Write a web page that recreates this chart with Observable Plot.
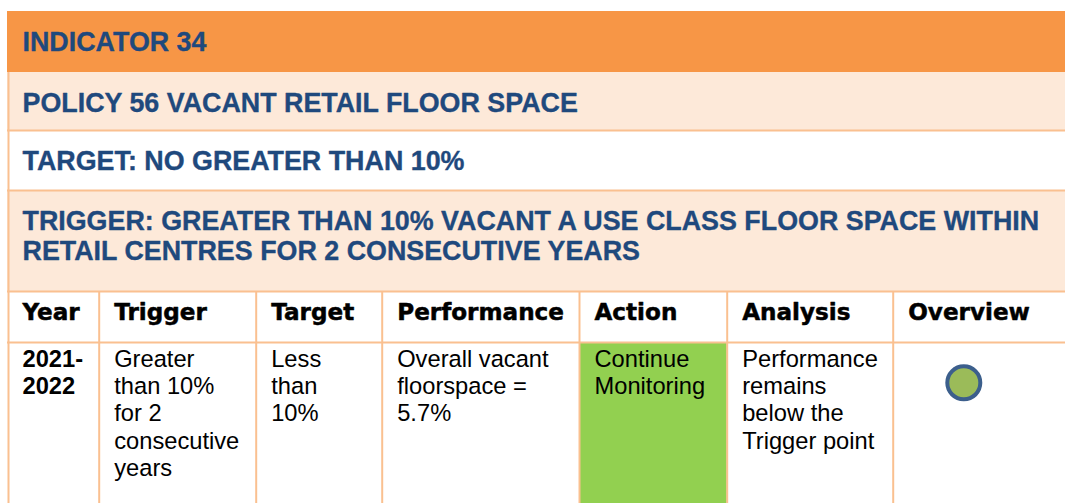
<!DOCTYPE html>
<html><head><meta charset="utf-8">
<script src="https://cdn.jsdelivr.net/npm/d3@7"></script>
<script src="https://cdn.jsdelivr.net/npm/@observablehq/plot@0.6"></script>
<style>html,body{margin:0;padding:0;background:#fff;} svg{display:block;}</style>
</head><body><div id="chart"></div>
<script>
// ---- data ----
const indicatorTitle = "INDICATOR 34";
const policyTitle = "POLICY 56 VACANT RETAIL FLOOR SPACE";
const targetTitle = "TARGET: NO GREATER THAN 10%";
const triggerTitle = ["TRIGGER: GREATER THAN 10% VACANT A USE CLASS FLOOR SPACE WITHIN", "RETAIL CENTRES FOR 2 CONSECUTIVE YEARS"];
const columns = ["Year", "Trigger", "Target", "Performance", "Action", "Analysis", "Overview"];
const yearCell = ["2021-", "2022"];
const triggerCell = ["Greater", "than 10%", "for 2", "consecutive", "years"];
const targetCell = ["Less", "than", "10%"];
const performanceCell = ["Overall vacant", "floorspace =", "5.7%"];
const actionCell = ["Continue", "Monitoring"];
const analysisCell = ["Performance", "remains", "below the", "Trigger point"];
const overviewRating = ["green"];

// ---- layout & style ----
const W = 1065, H = 503;
const tableLeft = 7;
const rowEdge = [11, 72, 130, 190, 291, 342, 503];
const colEdge = [8, 98.7, 255.7, 381.7, 579, 726.7, 892.7, W];
const pad = 15;
const orange = "#F79646", peach = "#FDE9D9", line = "#FAC090", blue = "#1F497D";
const green = "#92D050";
const ratingFill = {green: "#9BBB59"};
const titleFs = 26.85, titleLh = 1.155;
const headFs = 23.1;
const bodyFs = 23.7, bodyLh = 1.157;
const topFor = (baseline, fs, lh) => baseline - 0.71 * lh * fs;

const titles = [
  {x: 22, b: 50.5, t: indicatorTitle},
  {x: 22, b: 111, t: policyTitle},
  {x: 22, b: 169.5, t: targetTitle},
  {x: 22, b: 229, t: triggerTitle.join("\n")}
];
const headers = columns.map((c, i) => ({x: i === 0 ? 22 : colEdge[i] + pad, t: c}));
const yearCells = [{x: 22, t: yearCell.join("\n")}];
const cells = [triggerCell, targetCell, performanceCell, actionCell, analysisCell]
  .map((c, i) => ({x: colEdge[i + 1] + pad, t: c.join("\n")}));

const chart = Plot.plot({
  width: W, height: H, margin: 0,
  x: {domain: [0, W], range: [0, W], axis: null},
  y: {domain: [0, H], range: [0, H], axis: null},
  style: {background: "#fff", fontFamily: "Liberation Sans, Arial, sans-serif"},
  marks: [
    Plot.rect([0], {x1: tableLeft, x2: W, y1: rowEdge[0], y2: rowEdge[1], fill: orange}),
    Plot.rect([0], {x1: tableLeft, x2: W, y1: rowEdge[1], y2: rowEdge[2], fill: peach}),
    Plot.rect([0], {x1: tableLeft, x2: W, y1: rowEdge[3], y2: rowEdge[4], fill: peach}),
    Plot.rect([0], {x1: colEdge[4], x2: colEdge[5], y1: rowEdge[5], y2: rowEdge[6], fill: green}),
    Plot.ruleY(rowEdge.slice(2, 6), {x1: tableLeft, x2: W, stroke: line, strokeWidth: 2}),
    Plot.ruleX([colEdge[0]], {y1: rowEdge[1], y2: rowEdge[6], stroke: line, strokeWidth: 2}),
    Plot.ruleX(colEdge.slice(1, 7), {y1: rowEdge[4], y2: rowEdge[6], stroke: line, strokeWidth: 2}),
    Plot.text(titles, {x: "x", y: d => topFor(d.b, titleFs, titleLh), text: "t", textAnchor: "start", lineAnchor: "top",
      lineHeight: titleLh, fontSize: titleFs, fontWeight: "bold", fill: blue, fontFamily: "Liberation Sans",
      stroke: blue, strokeWidth: 0.35}),
    Plot.text(headers, {x: "x", y: topFor(319, headFs, 1), text: "t", textAnchor: "start", lineAnchor: "top",
      fontSize: headFs, fontWeight: "bold", fill: "#000", fontFamily: "DejaVu Sans", stroke: "#000", strokeWidth: 0.5}),
    Plot.text(yearCells, {x: "x", y: topFor(366, bodyFs, bodyLh), text: "t", textAnchor: "start", lineAnchor: "top",
      lineHeight: bodyLh, fontSize: bodyFs, fontWeight: "bold", fill: "#000", fontFamily: "Liberation Sans"}),
    Plot.text(cells, {x: "x", y: topFor(366, bodyFs, bodyLh), text: "t", textAnchor: "start", lineAnchor: "top",
      lineHeight: bodyLh, fontSize: bodyFs, fontWeight: "normal", fill: "#000", fontFamily: "Liberation Sans"}),
    Plot.dot(overviewRating, {x: 963.3, y: 382.3, r: 16.5, fill: d => ratingFill[d], stroke: "#3C5F8C", strokeWidth: 4})
  ]
});
document.getElementById("chart").appendChild(chart);
</script>
</body></html>
